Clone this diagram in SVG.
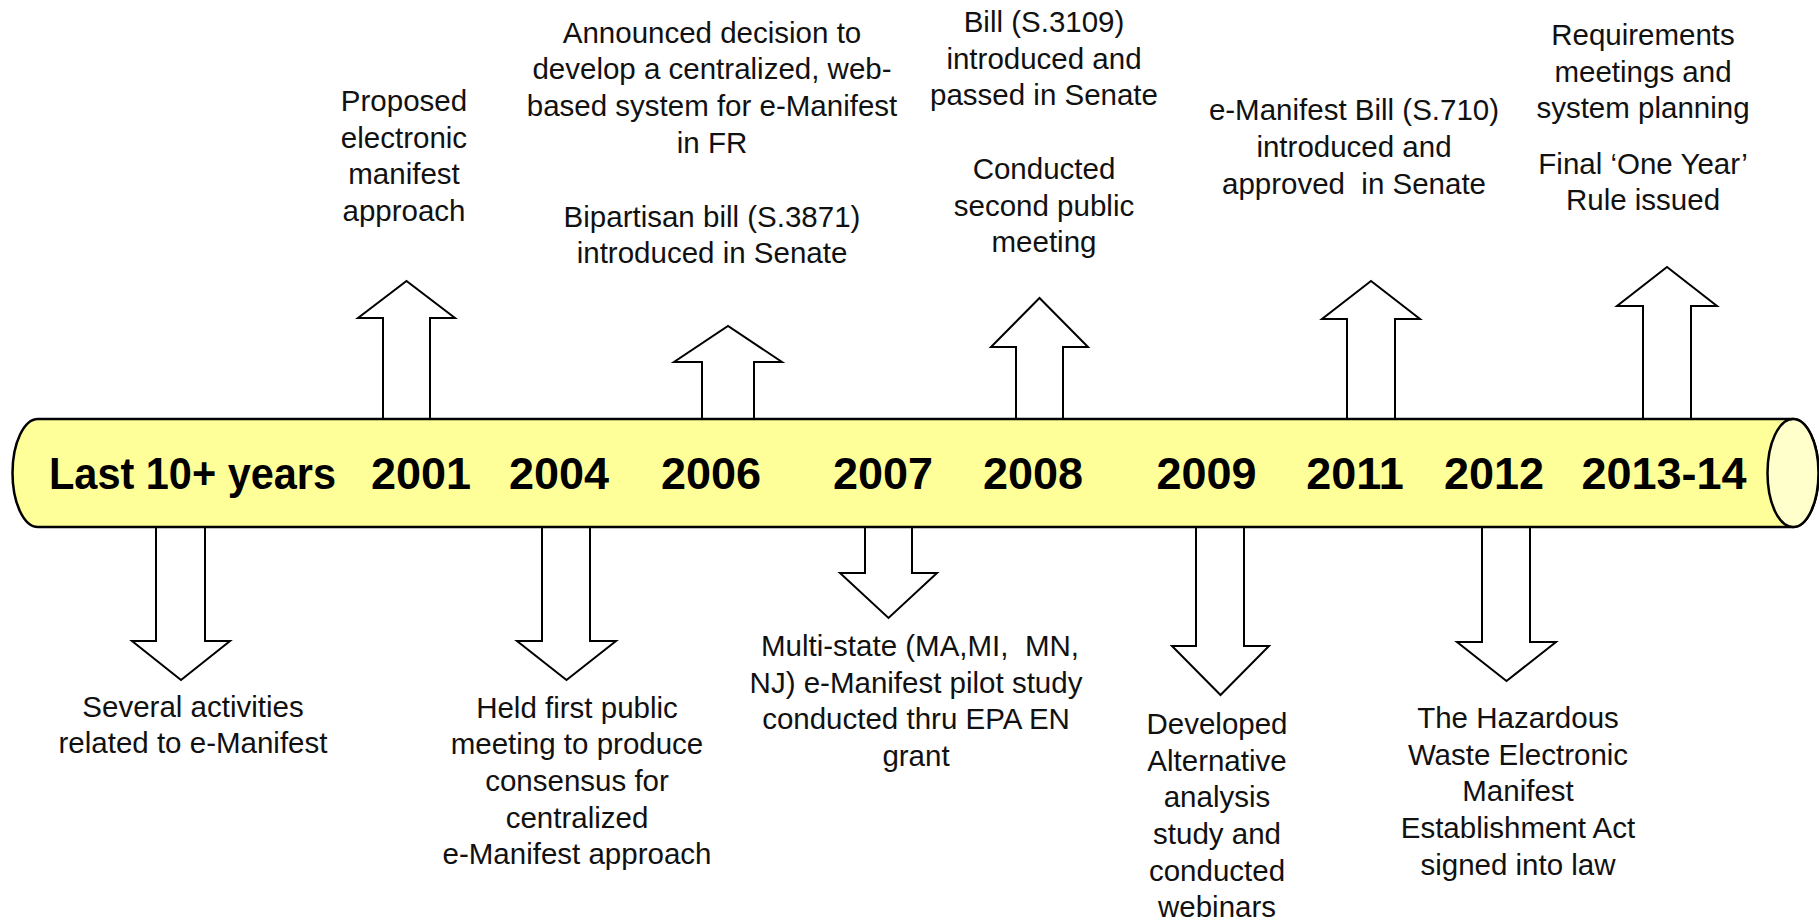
<svg xmlns="http://www.w3.org/2000/svg" width="1819" height="922" viewBox="0 0 1819 922">
<style>
.bg{fill:#ffffff}
.arrow{fill:#ffffff;stroke:#000;stroke-width:2;stroke-linejoin:miter}
.tube{fill:#ffff99;stroke:#000;stroke-width:2.5}
.cap{fill:#ffffcc;stroke:#000;stroke-width:2.5}
.yr{font-family:"Liberation Sans",Arial,sans-serif;font-weight:bold;font-size:45px;fill:#000;text-anchor:middle}
.t{font-family:"Liberation Sans",Arial,sans-serif;font-size:29.5px;fill:#111;text-anchor:middle}
</style>
<rect class="bg" x="0" y="0" width="1819" height="922"/>
<g id="connectors">
  <!-- up arrows -->
  <polygon class="arrow" points="383,420 383,318 358,318 406.5,281 455,318 430,318 430,420"/>
  <polygon class="arrow" points="702,420 702,362 674,362 728,326 782,362 754,362 754,420"/>
  <polygon class="arrow" points="1016,420 1016,347 991,347 1039.5,298 1088,347 1063,347 1063,420"/>
  <polygon class="arrow" points="1347,420 1347,319 1322,319 1371,281 1420,319 1395,319 1395,420"/>
  <polygon class="arrow" points="1643,420 1643,306 1617,306 1667,267 1717,306 1691,306 1691,420"/>
  <!-- down arrows -->
  <polygon class="arrow" points="156,526 156,641 132,641 181,680 230,641 205,641 205,526"/>
  <polygon class="arrow" points="542,526 542,641 517,641 566.5,680 616,641 590,641 590,526"/>
  <polygon class="arrow" points="865,526 865,573 840,573 888.5,618 937,573 912,573 912,526"/>
  <polygon class="arrow" points="1196,526 1196,646 1172,646 1220.5,695 1269,646 1244,646 1244,526"/>
  <polygon class="arrow" points="1482,526 1482,642 1457,642 1506.5,681 1556,642 1530,642 1530,526"/>
</g>
<g id="timeline">
  <path class="tube" d="M38,419 L1793,419 A25.5,54 0 0 1 1793,527 L38,527 A25.5,54 0 0 1 38,419 Z"/>
  <ellipse class="cap" cx="1793" cy="473" rx="25.5" ry="54"/>
  <text class="yr" x="192.5" y="489" textLength="287" lengthAdjust="spacingAndGlyphs">Last 10+ years</text>
  <text class="yr" x="421" y="489">2001</text>
  <text class="yr" x="559" y="489">2004</text>
  <text class="yr" x="711" y="489">2006</text>
  <text class="yr" x="883" y="489">2007</text>
  <text class="yr" x="1033" y="489">2008</text>
  <text class="yr" x="1206.5" y="489">2009</text>
  <text class="yr" x="1355" y="489">2011</text>
  <text class="yr" x="1494" y="489">2012</text>
  <text class="yr" x="1664" y="489">2013-14</text>
</g>
<g id="node-2001">
  <text class="t" x="404" y="111">Proposed</text>
  <text class="t" x="404" y="147.7">electronic</text>
  <text class="t" x="404" y="184.4">manifest</text>
  <text class="t" x="404" y="221.1">approach</text>
</g>
<g id="node-2006">
  <text class="t" x="712" y="42.7">Announced decision to</text>
  <text class="t" x="712" y="79.4">develop a centralized, web-</text>
  <text class="t" x="712" y="116.1">based system for e-Manifest</text>
  <text class="t" x="712" y="152.8">in FR</text>
  <text class="t" x="712" y="226.5">Bipartisan bill (S.3871)</text>
  <text class="t" x="712" y="263.2">introduced in Senate</text>
</g>
<g id="node-2008">
  <text class="t" x="1044" y="32">Bill (S.3109)</text>
  <text class="t" x="1044" y="68.7">introduced and</text>
  <text class="t" x="1044" y="105.4">passed in Senate</text>
  <text class="t" x="1044" y="179">Conducted</text>
  <text class="t" x="1044" y="215.7">second public</text>
  <text class="t" x="1044" y="252.4">meeting</text>
</g>
<g id="node-2011">
  <text class="t" x="1354" y="120.2">e-Manifest Bill (S.710)</text>
  <text class="t" x="1354" y="156.9">introduced and</text>
  <text class="t" x="1354" y="193.6" xml:space="preserve">approved  in Senate</text>
</g>
<g id="node-2013-14">
  <text class="t" x="1643" y="44.8">Requirements</text>
  <text class="t" x="1643" y="81.5">meetings and</text>
  <text class="t" x="1643" y="118.2">system planning</text>
  <text class="t" x="1643" y="173.6">Final ‘One Year’</text>
  <text class="t" x="1643" y="210.3">Rule issued</text>
</g>
<g id="node-last10">
  <text class="t" x="193" y="717">Several activities</text>
  <text class="t" x="193" y="753">related to e-Manifest</text>
</g>
<g id="node-2004">
  <text class="t" x="577" y="717.6">Held first public</text>
  <text class="t" x="577" y="754.3">meeting to produce</text>
  <text class="t" x="577" y="791">consensus for</text>
  <text class="t" x="577" y="827.7">centralized</text>
  <text class="t" x="577" y="864.4">e-Manifest approach</text>
</g>
<g id="node-2007">
  <text class="t" x="920" y="656" xml:space="preserve">Multi-state (MA,MI,  MN,</text>
  <text class="t" x="916" y="692.7">NJ) e-Manifest pilot study</text>
  <text class="t" x="916" y="729.4">conducted thru EPA EN</text>
  <text class="t" x="916" y="766.1">grant</text>
</g>
<g id="node-2009">
  <text class="t" x="1217" y="733.8">Developed</text>
  <text class="t" x="1217" y="770.5">Alternative</text>
  <text class="t" x="1217" y="807.2">analysis</text>
  <text class="t" x="1217" y="843.9">study and</text>
  <text class="t" x="1217" y="880.6">conducted</text>
  <text class="t" x="1217" y="917.3">webinars</text>
</g>
<g id="node-2012">
  <text class="t" x="1518" y="728">The Hazardous</text>
  <text class="t" x="1518" y="764.7">Waste Electronic</text>
  <text class="t" x="1518" y="801.4">Manifest</text>
  <text class="t" x="1518" y="838.1">Establishment Act</text>
  <text class="t" x="1518" y="874.8">signed into law</text>
</g>
</svg>
